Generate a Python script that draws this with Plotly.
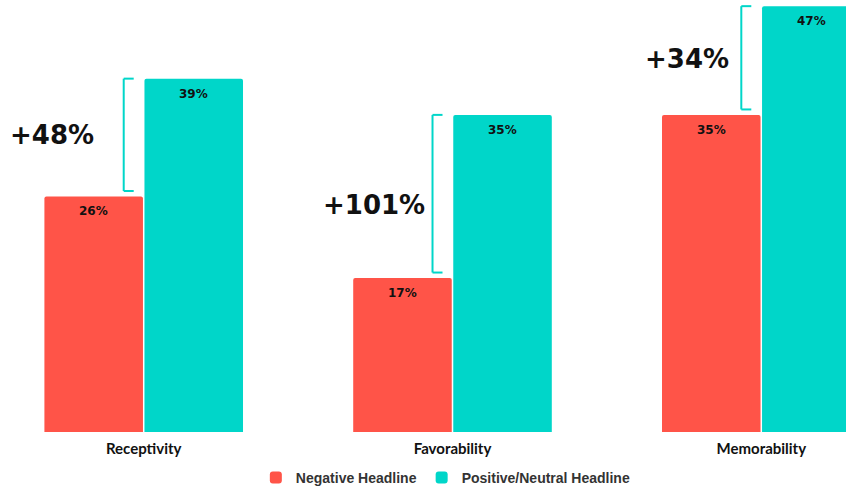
import plotly.graph_objects as go

# Survey results by headline tone (percent of respondents)
categories = ["Receptivity", "Favorability", "Memorability"]
negative = [26, 17, 35]
positive = [39, 35, 47]
lift_labels = ["+48%", "+101%", "+34%"]

NEG_COLOR = "#FF5448"
POS_COLOR = "#00D6C9"
LABEL_FONT = "DejaVu Sans"

fig = go.Figure()
fig.add_trace(go.Bar(x=categories, y=negative, name="Negative Headline",
                     marker=dict(color=NEG_COLOR, line=dict(width=0))))
fig.add_trace(go.Bar(x=categories, y=positive, name="Positive/Neutral Headline",
                     marker=dict(color=POS_COLOR, line=dict(width=0))))

annotations = []
shapes = []
# pixel scale of the category axis, used for the bracket offsets
px_per_cat = 308.8
bar_offset = 0.5 * (1 - 0.352) / 2  # centre of each bar relative to the category

for i, (n, p) in enumerate(zip(negative, positive)):
    # value labels just below each bar top
    for x_off, v in ((-bar_offset, n), (bar_offset, p)):
        annotations.append(dict(
            x=i + x_off, y=v, xref="x", yref="y", text=f"<b>{v}%</b>",
            showarrow=False, yshift=-15, yanchor="middle",
            font=dict(family=LABEL_FONT, size=12, color="#111111")))

    # bracket spanning the gap between the two bars
    bx = i - 20 / px_per_cat
    tx = i - 10 / px_per_cat
    y_top = p
    y_bot = n + 0.6
    line = dict(color=POS_COLOR, width=2)
    shapes += [
        dict(type="line", xref="x", yref="y", x0=bx, x1=bx, y0=y_bot, y1=y_top, line=line),
        dict(type="line", xref="x", yref="y", x0=bx, x1=tx, y0=y_top, y1=y_top, line=line),
        dict(type="line", xref="x", yref="y", x0=bx, x1=tx, y0=y_bot, y1=y_bot, line=line),
    ]

# relative lift callouts beside each bracket
lift_xshift = [-91.7, -78.5, -74.5]
lift_yshift = [0, -11, -1]
for i, (n, p) in enumerate(zip(negative, positive)):
    annotations.append(dict(
        x=i, y=(p + n + 0.6) / 2, xref="x", yref="y",
        text=f"<b>{lift_labels[i]}</b>", showarrow=False,
        xanchor="center", yanchor="middle",
        xshift=lift_xshift[i], yshift=lift_yshift[i],
        font=dict(family=LABEL_FONT, size=26, color="#111111")))

fig.update_layout(
    width=846, height=494,
    margin=dict(l=0, r=0, t=0, b=62, autoexpand=False),
    paper_bgcolor="white", plot_bgcolor="white",
    barmode="group", bargap=0.352, bargroupgap=0.015,
    barcornerradius=2,
    showlegend=True,
    legend=dict(orientation="h", x=0.527, xanchor="center",
                yref="container", y=0.0, yanchor="bottom",
                font=dict(family="Liberation Sans", size=14, color="#333333", weight="bold"),
                itemwidth=30, traceorder="normal"),
    annotations=annotations,
    shapes=shapes,
)
fig.update_xaxes(range=[-0.4654, 2.2743], showgrid=False, showline=False, zeroline=False,
                 ticks="", ticklabelstandoff=6,
                 tickfont=dict(family="Lato", size=15, color="#111111", weight="bold"))
fig.update_yaxes(range=[0, 47.68], visible=False, showgrid=False, zeroline=False)

fig.write_html("out.html")
